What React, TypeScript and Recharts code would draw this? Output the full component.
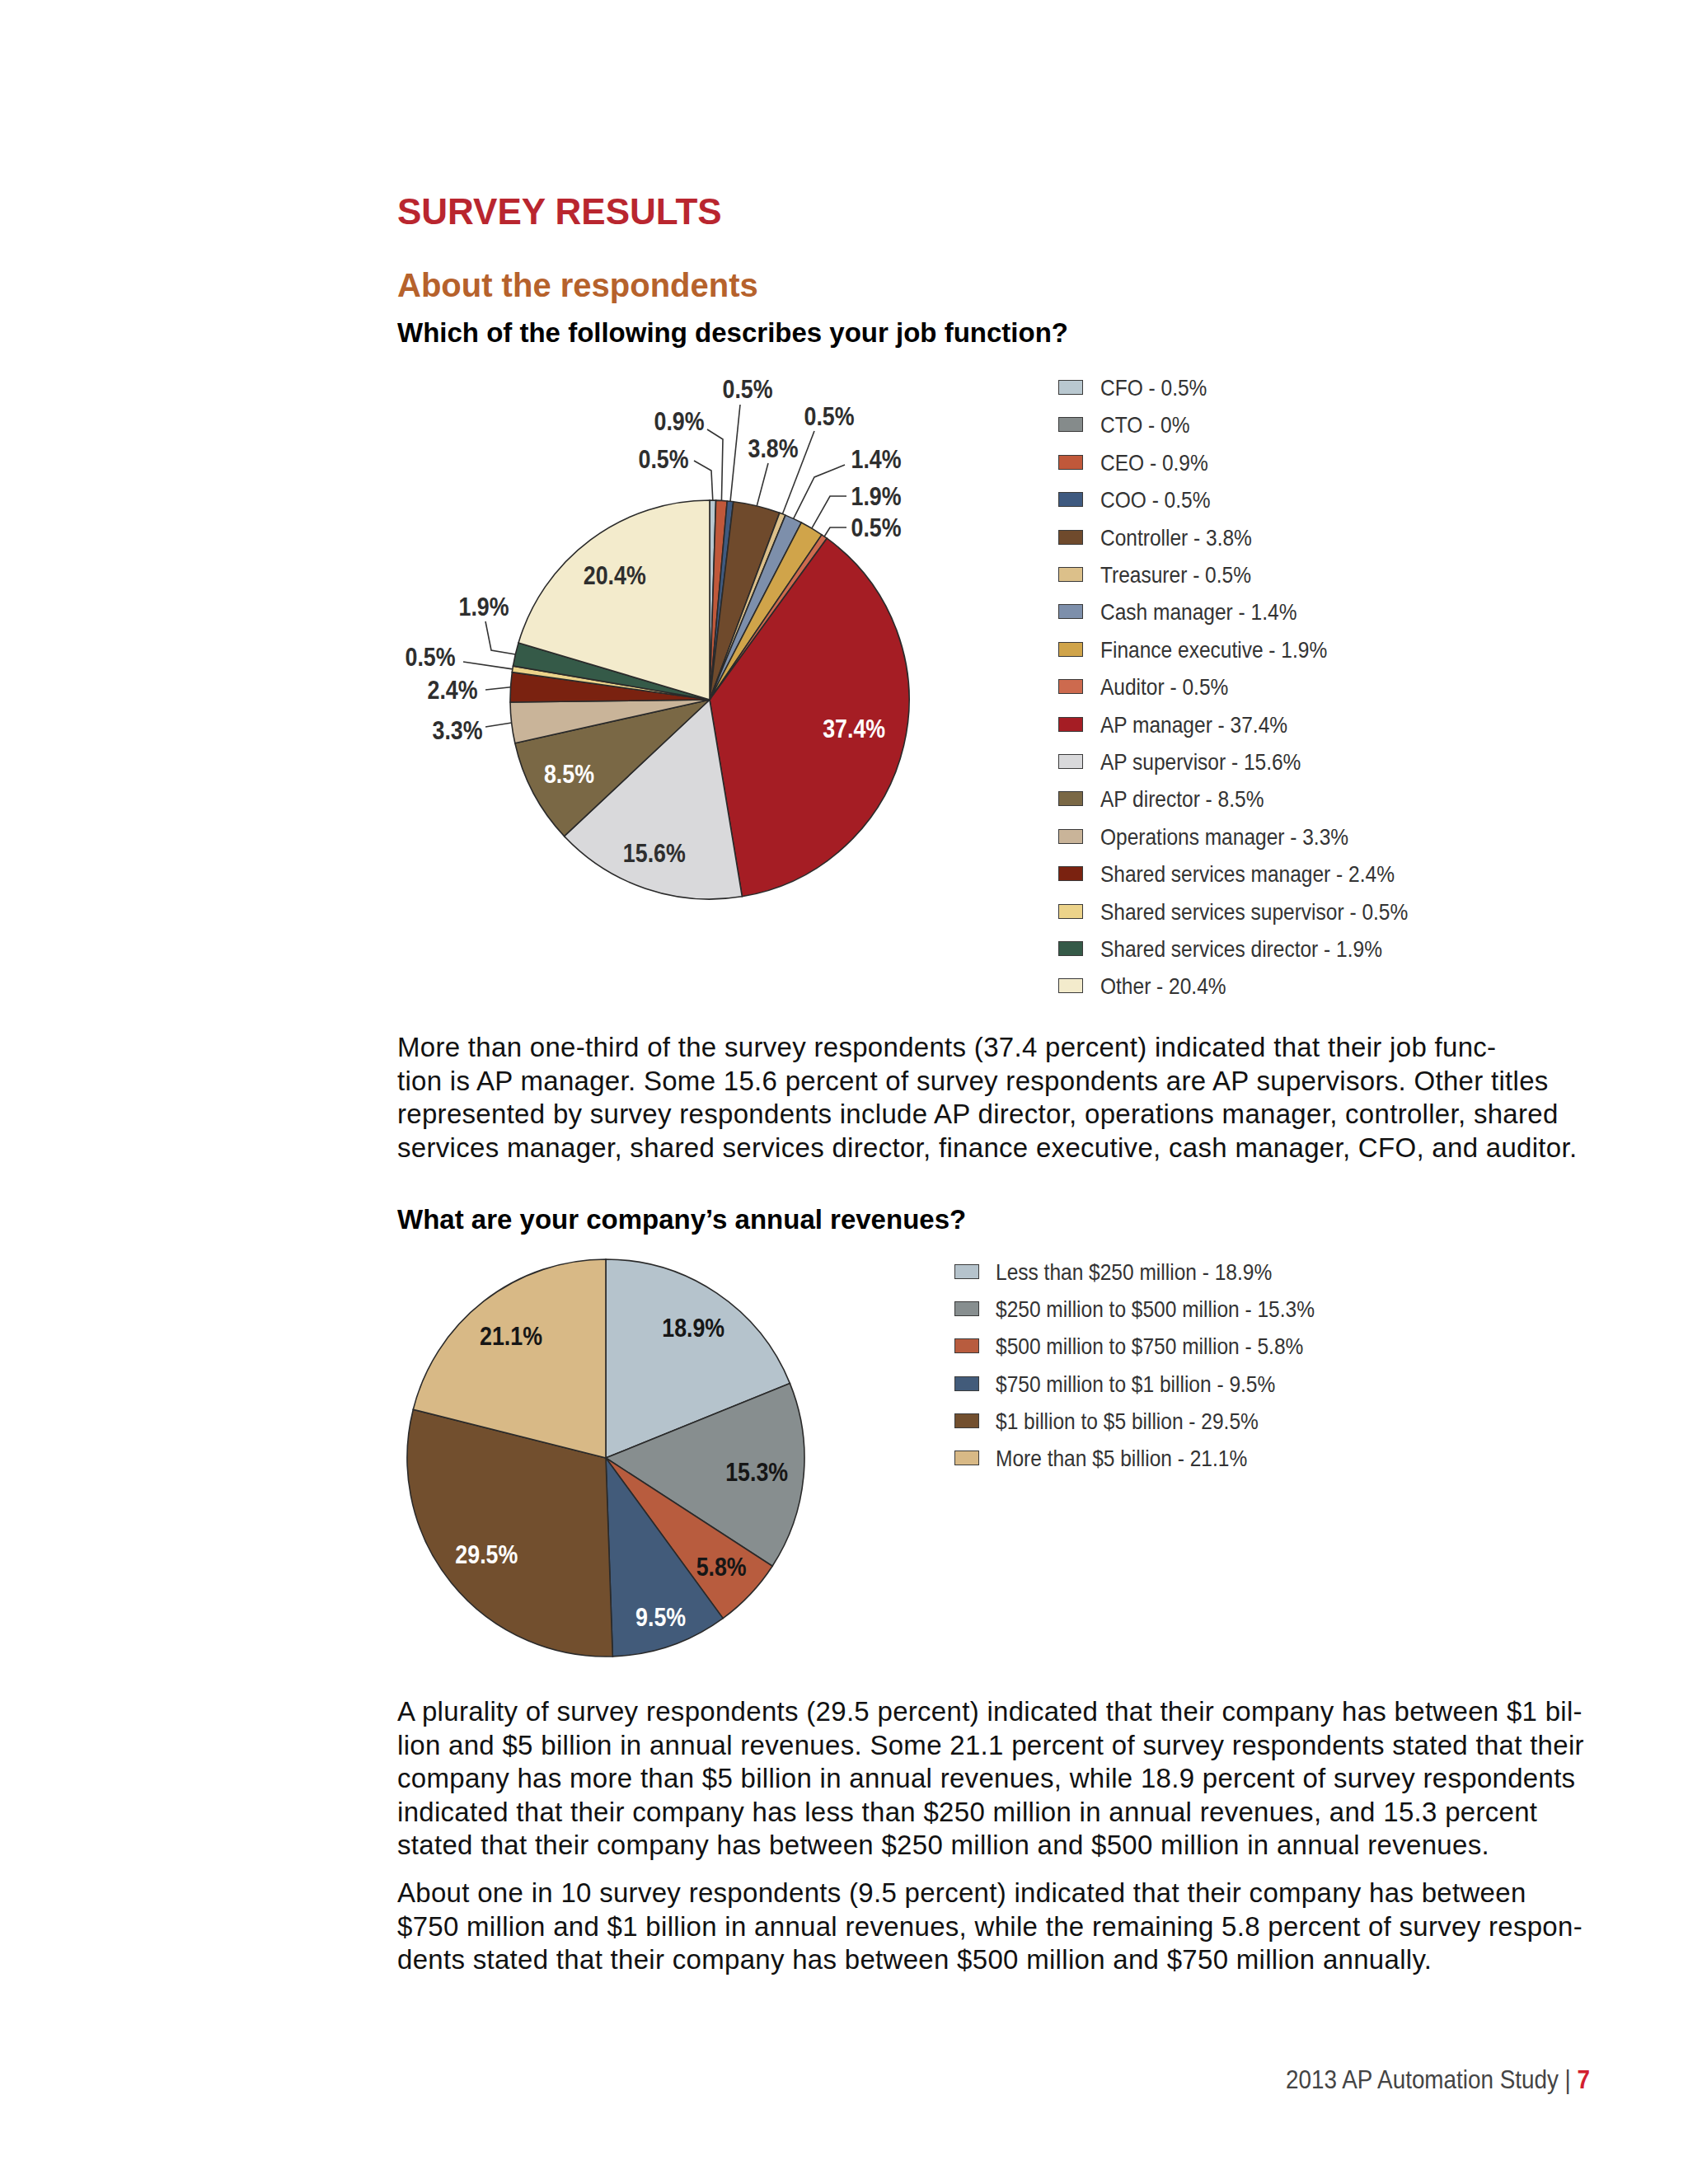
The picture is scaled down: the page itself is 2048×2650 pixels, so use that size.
import { PieChart, Pie, Cell } from 'recharts'

// -------------------------------------------------------------------
// Data — job function (chart 1)
// -------------------------------------------------------------------
const JOB_TITLES = [
  'CFO',
  'CTO',
  'CEO',
  'COO',
  'Controller',
  'Treasurer',
  'Cash manager',
  'Finance executive',
  'Auditor',
  'AP manager',
  'AP supervisor',
  'AP director',
  'Operations manager',
  'Shared services manager',
  'Shared services supervisor',
  'Shared services director',
  'Other',
]
const JOB_SHARES = [0.5, 0, 0.9, 0.5, 3.8, 0.5, 1.4, 1.9, 0.5, 37.4, 15.6, 8.5, 3.3, 2.4, 0.5, 1.9, 20.4]

// -------------------------------------------------------------------
// Data — annual revenues (chart 2)
// -------------------------------------------------------------------
const REVENUE_BANDS = [
  'Less than $250 million',
  '$250 million to $500 million',
  '$500 million to $750 million',
  '$750 million to $1 billion',
  '$1 billion to $5 billion',
  'More than $5 billion',
]
const REVENUE_SHARES = [18.9, 15.3, 5.8, 9.5, 29.5, 21.1]

// Warna slice
const JOB_COLORS = [
  '#b9c8d0', '#858b8b', '#c0583a', '#3f5a80', '#6f4a2c', '#dcc08a', '#7d8fab', '#d0a44a',
  '#cd6a4e', '#a51d24', '#d9d9db', '#7a6845', '#c9b499', '#7a2210', '#ecd38a', '#355a48', '#f3ebcc',
]
const REVENUE_COLORS = ['#b5c3cc', '#878e8f', '#b85c3e', '#425b7a', '#724f2e', '#d8b986']

const SANS = "'Liberation Sans', Arial, Helvetica, sans-serif"
const INK = '#2e2e2e'
const RAD = Math.PI / 180

// -------------------------------------------------------------------
// Label layout (offsets relatif ke pusat pie, px)
// inside: jarak radial label dari pusat (+ geser opsional)
// outside: posisi teks + titik awal garis (+ siku opsional)
// -------------------------------------------------------------------
type LabelSpec =
  | { inside: number; fill: string; dx?: number; dy?: number }
  | { tx: number; ty: number; pts: [number, number][] }

const JOB_LABELS: Record<string, LabelSpec> = {
  CFO: { tx: -56, ty: -292, pts: [[-19, -290], [2, -278]] },
  CEO: { tx: -37, ty: -338, pts: [[-3, -328], [16, -316]] },
  COO: { tx: 46, ty: -377, pts: [[37, -358]] },
  Controller: { tx: 77, ty: -305, pts: [[71, -287]] },
  Treasurer: { tx: 145, ty: -344, pts: [[127, -326]] },
  'Cash manager': { tx: 202, ty: -292, pts: [[164, -285], [127, -270]] },
  'Finance executive': { tx: 202, ty: -247, pts: [[166, -247], [146, -247]] },
  Auditor: { tx: 202, ty: -209, pts: [[166, -209], [146, -209]] },
  'AP manager': { inside: 180, fill: '#ffffff', dy: -6 },
  'AP supervisor': { inside: 200, fill: INK, dx: -3, dy: -3 },
  'AP director': { inside: 193, fill: '#ffffff' },
  'Operations manager': { tx: -306, ty: 37, pts: [[-272, 33]] },
  'Shared services manager': { tx: -312, ty: -12, pts: [[-272, -12]] },
  'Shared services supervisor': { tx: -339, ty: -52, pts: [[-299, -46]] },
  'Shared services director': { tx: -274, ty: -113, pts: [[-272, -95], [-265, -60]] },
  Other: { inside: 186, fill: INK, dx: -4, dy: -2 },
}

const REVENUE_LABELS: Record<string, LabelSpec> = {
  'Less than $250 million': { inside: 190, fill: '#161616' },
  '$250 million to $500 million': { inside: 184, fill: '#161616' },
  '$500 million to $750 million': { inside: 193, fill: '#161616' },
  '$750 million to $1 billion': { inside: 204, fill: '#ffffff' },
  '$1 billion to $5 billion': { inside: 186, fill: '#ffffff' },
  'More than $5 billion': { inside: 187, fill: '#161616' },
}

const jobData = JOB_TITLES.map((name, i) => ({ name, value: JOB_SHARES[i], color: JOB_COLORS[i] })).filter(
  (d) => d.value > 0
)
const revenueData = REVENUE_BANDS.map((name, i) => ({ name, value: REVENUE_SHARES[i], color: REVENUE_COLORS[i] }))

// -------------------------------------------------------------------
// Label renderer — teks bold "condensed" (scaleX)
// -------------------------------------------------------------------
function PctText({ x, y, fill, text }: { x: number; y: number; fill: string; text: string }) {
  return (
    <text
      transform={`translate(${x},${y}) scale(0.85,1)`}
      fill={fill}
      textAnchor="middle"
      dominantBaseline="central"
      style={{ fontFamily: SANS, fontWeight: 700, fontSize: 31.5 }}
    >
      {text}
    </text>
  )
}

function makeLabel(layout: Record<string, LabelSpec>) {
  return (props: any) => {
    const { cx, cy, midAngle, outerRadius, name, value } = props
    const spec = layout[name]
    if (!spec) return null
    const text = `${value}%`
    if ('inside' in spec) {
      const x = cx + spec.inside * Math.cos(-midAngle * RAD) + (spec.dx ?? 0)
      const y = cy + spec.inside * Math.sin(-midAngle * RAD) + (spec.dy ?? 0)
      return <PctText x={x} y={y} fill={spec.fill} text={text} />
    }
    const ex = cx + outerRadius * Math.cos(-midAngle * RAD)
    const ey = cy + outerRadius * Math.sin(-midAngle * RAD)
    const pts = [...spec.pts.map(([px, py]) => `${cx + px},${cy + py}`), `${ex},${ey}`].join(' ')
    return (
      <g>
        <polyline points={pts} fill="none" stroke="#333" strokeWidth={1.6} />
        <PctText x={cx + spec.tx} y={cy + spec.ty} fill={INK} text={text} />
      </g>
    )
  }
}

// -------------------------------------------------------------------
// Legend (kotak warna + teks)
// -------------------------------------------------------------------
function SwatchLegend({
  names,
  values,
  colors,
  left,
  top,
  gap,
  textLeft,
}: {
  names: string[]
  values: number[]
  colors: string[]
  left: number
  top: number
  gap: number
  textLeft: number
}) {
  return (
    <div style={{ position: 'absolute', left, top }}>
      {names.map((name, i) => (
        <div key={name} style={{ position: 'absolute', top: i * gap, left: 0, height: 0 }}>
          <span
            style={{
              position: 'absolute',
              left: 0,
              top: -9,
              width: 30,
              height: 18,
              background: colors[i],
              border: '1.5px solid #3a3a3a',
              boxSizing: 'border-box',
            }}
          />
          <span
            style={{
              position: 'absolute',
              left: textLeft,
              top: -18,
              lineHeight: '36px',
              whiteSpace: 'nowrap',
              fontFamily: SANS,
              fontSize: 28.5,
              color: '#333',
              transform: 'scaleX(0.86)',
              transformOrigin: 'left center',
            }}
          >
            {name} - {values[i]}%
          </span>
        </div>
      ))}
    </div>
  )
}

// -------------------------------------------------------------------
// Teks paragraf (baris tetap seperti sumber)
// -------------------------------------------------------------------
const PARA_1 = [
  'More than one-third of the survey respondents (37.4 percent) indicated that their job func-',
  'tion is AP manager. Some 15.6 percent of survey respondents are AP supervisors. Other titles',
  'represented by survey respondents include AP director, operations manager, controller, shared',
  'services manager, shared services director, finance executive, cash manager, CFO, and auditor.',
]
const PARA_2 = [
  'A plurality of survey respondents (29.5 percent) indicated that their company has between $1 bil-',
  'lion and $5 billion in annual revenues. Some 21.1 percent of survey respondents stated that their',
  'company has more than $5 billion in annual revenues, while 18.9 percent of survey respondents',
  'indicated that their company has less than $250 million in annual revenues, and 15.3 percent',
  'stated that their company has between $250 million and $500 million in annual revenues.',
]
const PARA_3 = [
  'About one in 10 survey respondents (9.5 percent) indicated that their company has between',
  '$750 million and $1 billion in annual revenues, while the remaining 5.8 percent of survey respon-',
  'dents stated that their company has between $500 million and $750 million annually.',
]

function Paragraph({ lines, top }: { lines: string[]; top: number }) {
  return (
    <div
      style={{
        position: 'absolute',
        left: 482,
        top,
        fontFamily: SANS,
        fontSize: 33,
        lineHeight: '40.5px',
        color: '#111',
        whiteSpace: 'nowrap',
        letterSpacing: 0.3,
      }}
    >
      {lines.map((l) => (
        <div key={l}>{l}</div>
      ))}
    </div>
  )
}

function Heading({ text, top, size, color }: { text: string; top: number; size: number; color: string }) {
  return (
    <div
      style={{
        position: 'absolute',
        left: 482,
        top,
        fontFamily: SANS,
        fontWeight: 700,
        fontSize: size,
        color,
        whiteSpace: 'nowrap',
      }}
    >
      {text}
    </div>
  )
}

export default function App() {
  return (
    <div
      style={{
        position: 'absolute',
        left: 0,
        top: 0,
        width: 2048,
        height: 2650,
        background: '#ffffff',
        overflow: 'hidden',
      }}
    >
      {/* Header */}
      <Heading text="SURVEY RESULTS" top={232} size={44} color="#b9262f" />
      <Heading text="About the respondents" top={324} size={40} color="#b6622c" />
      <Heading text="Which of the following describes your job function?" top={385} size={33} color="#000" />

      {/* Chart 1 — job function */}
      <div style={{ position: 'absolute', left: 440, top: 420 }}>
        <PieChart width={820} height={760} margin={{ top: 0, right: 0, bottom: 0, left: 0 }}>
          <Pie
            data={jobData}
            dataKey="value"
            nameKey="name"
            cx={421}
            cy={429}
            outerRadius={242}
            startAngle={90}
            endAngle={-270}
            stroke="#2a2a2a"
            strokeWidth={1.6}
            labelLine={false}
            label={makeLabel(JOB_LABELS)}
            isAnimationActive={false}
          >
            {jobData.map((d) => (
              <Cell key={d.name} fill={d.color} />
            ))}
          </Pie>
        </PieChart>
      </div>
      <SwatchLegend
        names={JOB_TITLES}
        values={JOB_SHARES}
        colors={JOB_COLORS}
        left={1284}
        top={470}
        gap={45.4}
        textLeft={51}
      />

      <Paragraph lines={PARA_1} top={1251} />

      <Heading text="What are your company’s annual revenues?" top={1461} size={33} color="#000" />

      {/* Chart 2 — annual revenues */}
      <div style={{ position: 'absolute', left: 440, top: 1490 }}>
        <PieChart width={620} height={560} margin={{ top: 0, right: 0, bottom: 0, left: 0 }}>
          <Pie
            data={revenueData}
            dataKey="value"
            nameKey="name"
            cx={295}
            cy={279}
            outerRadius={241}
            startAngle={90}
            endAngle={-270}
            stroke="#2a2a2a"
            strokeWidth={1.6}
            labelLine={false}
            label={makeLabel(REVENUE_LABELS)}
            isAnimationActive={false}
          >
            {revenueData.map((d) => (
              <Cell key={d.name} fill={d.color} />
            ))}
          </Pie>
        </PieChart>
      </div>
      <SwatchLegend
        names={REVENUE_BANDS}
        values={REVENUE_SHARES}
        colors={REVENUE_COLORS}
        left={1158}
        top={1543}
        gap={45.2}
        textLeft={50}
      />

      <Paragraph lines={PARA_2} top={2057} />
      <Paragraph lines={PARA_3} top={2277} />

      {/* Footer */}
      <div
        style={{
          position: 'absolute',
          right: 2048 - 1929,
          top: 2505,
          fontFamily: SANS,
          fontSize: 32,
          color: '#444',
          whiteSpace: 'nowrap',
          transform: 'scaleX(0.87)',
          transformOrigin: 'right center',
        }}
      >
        2013 AP Automation Study |{' '}
        <span style={{ color: '#d2202f', fontWeight: 700 }}>7</span>
      </div>
    </div>
  )
}
